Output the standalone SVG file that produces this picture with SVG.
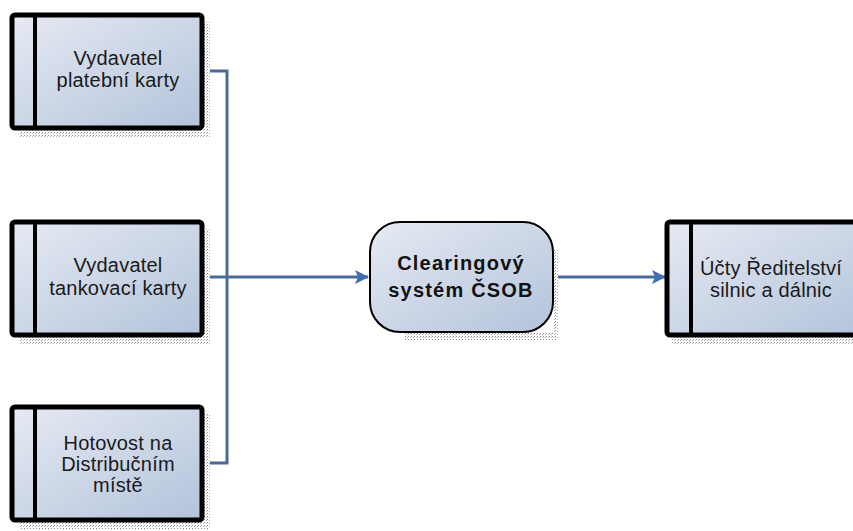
<svg xmlns="http://www.w3.org/2000/svg" width="853" height="531" viewBox="0 0 853 531">
<defs>
<linearGradient id="fill" x1="0" y1="0" x2="1" y2="1">
<stop offset="0" stop-color="#e6eaf3"/>
<stop offset="1" stop-color="#b3c3db"/>
</linearGradient>
<pattern id="dots" width="3" height="3" patternUnits="userSpaceOnUse">
<rect width="3" height="3" fill="#ffffff"/>
<rect width="1" height="1" fill="#8a8a8a"/>
<rect x="2" y="1" width="1" height="1" fill="#b0b0b0"/>
</pattern>
<marker id="arr" markerWidth="14" markerHeight="14" refX="13" refY="7" orient="auto" markerUnits="userSpaceOnUse">
<path d="M0,0 L14,7 L0,14 L3,7 Z" fill="#3f6fb0"/>
</marker>
<style>
.box{fill:url(#fill);stroke:#000;stroke-width:5;}
.div{stroke:#000;stroke-width:4;}
.sh{fill:url(#dots);}
.t{font-family:"Liberation Sans",Arial,sans-serif;font-size:20px;fill:#1a1a1a;text-anchor:middle;letter-spacing:0.2px;}
.tb{font-family:"Liberation Sans",Arial,sans-serif;font-size:20px;font-weight:bold;fill:#111;text-anchor:middle;letter-spacing:1.2px;}
.c{fill:none;stroke:#4a6a98;stroke-width:3;}
</style>
</defs>
<g id="connectors">
<path class="c" d="M202,71 H227 V463 H202"/>
<path class="c" d="M202,277 H368" marker-end="url(#arr)"/>
<path class="c" d="M553,277 H665" marker-end="url(#arr)"/>
</g>
<g id="node1">
<rect class="sh" x="20" y="128" width="190" height="9"/>
<rect class="sh" x="203" y="22" width="7" height="115"/>
<rect class="box" x="12" y="15" width="190" height="113" rx="3"/>
<line class="div" x1="35" y1="15" x2="35" y2="128"/>
<text class="t" x="118" y="65">Vydavatel</text>
<text class="t" x="118" y="87">platební karty</text>
</g>
<g id="node2">
<rect class="sh" x="20" y="335" width="190" height="9"/>
<rect class="sh" x="203" y="229" width="7" height="115"/>
<rect class="box" x="12" y="222" width="190" height="113" rx="3"/>
<line class="div" x1="35" y1="222" x2="35" y2="335"/>
<text class="t" x="118" y="272">Vydavatel</text>
<text class="t" x="118" y="295">tankovací karty</text>
</g>
<g id="node3">
<rect class="sh" x="20" y="520" width="190" height="9"/>
<rect class="sh" x="203" y="414" width="7" height="115"/>
<rect class="box" x="12" y="407" width="190" height="113" rx="3"/>
<line class="div" x1="35" y1="407" x2="35" y2="520"/>
<text class="t" x="118" y="450">Hotovost na</text>
<text class="t" x="118" y="471">Distribučním</text>
<text class="t" x="118" y="492">místě</text>
</g>
<g id="center">
<rect class="sh" x="405" y="332" width="152" height="8"/>
<rect class="sh" x="553" y="250" width="5" height="88"/>
<rect x="370" y="222" width="183" height="110" rx="30" ry="30" fill="url(#fill)" stroke="#000" stroke-width="2"/>
<text class="tb" x="461" y="270">Clearingový</text>
<text class="tb" x="461" y="297">systém ČSOB</text>
</g>
<g id="node4">
<rect class="sh" x="672" y="335" width="190" height="9"/>
<rect class="box" x="667" y="222" width="200" height="113" rx="3"/>
<line class="div" x1="691" y1="222" x2="691" y2="335"/>
<text class="t" x="771" y="275">Účty Ředitelství</text>
<text class="t" x="771" y="297">silnic a dálnic</text>
</g>
</svg>
